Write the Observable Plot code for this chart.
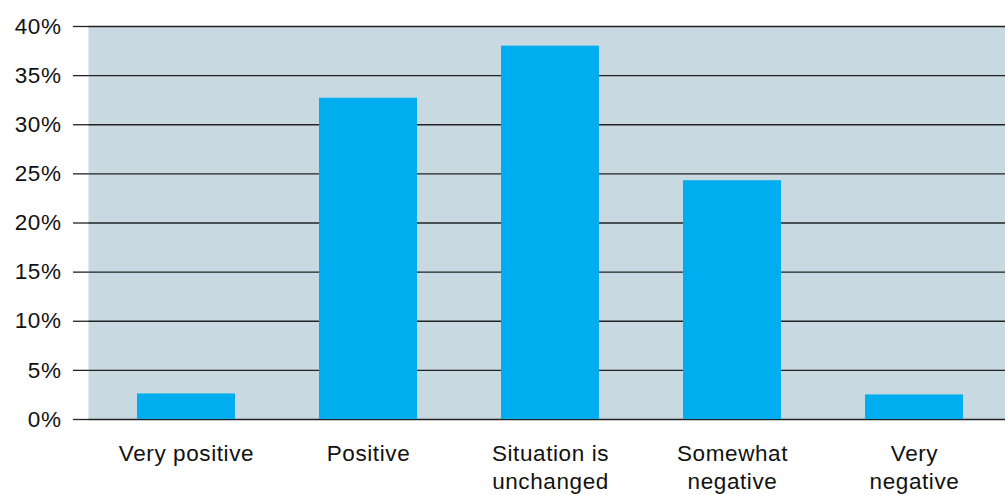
<!DOCTYPE html>
<html>
<head>
<meta charset="utf-8">
<script src="https://cdn.jsdelivr.net/npm/d3@7"></script>
<script src="https://cdn.jsdelivr.net/npm/@observablehq/plot@0.6"></script>
<style>
  html, body { margin: 0; padding: 0; background: #fff; }
  #chart svg { display: block; }
  #chart text { letter-spacing: 0.6px; }
</style>
</head>
<body>
<div id="chart"></div>
<script>
const categories = ["Very positive", "Positive", "Situation is\nunchanged", "Somewhat\nnegative", "Very\nnegative"];
const values = [2.6, 32.7, 38.0, 24.3, 2.5];
const yTicks = [0, 5, 10, 15, 20, 25, 30, 35, 40];

const data = categories.map((c, i) => ({category: c, value: values[i]}));

const chart = Plot.plot({
  width: 1005,
  height: 495,
  marginLeft: 88,
  marginRight: 0,
  marginTop: 26,
  marginBottom: 76,
  style: {fontFamily: "'Liberation Sans', Arial, sans-serif", fontSize: "22.5px", color: "#111", background: "#fff", overflow: "visible"},
  x: {domain: categories, range: [95, 1005], paddingInner: 0.46, paddingOuter: 0.23, label: null},
  y: {domain: [0, 40], ticks: yTicks, label: null},
  marks: [
    Plot.frame({fill: "#c8d9e1", stroke: null}),
    Plot.gridY(yTicks, {stroke: "#222", strokeOpacity: 1, strokeWidth: 1.3}),
    Plot.barY(data, {x: "category", y: "value", fill: "#00aeef"}),
    Plot.axisY(yTicks, {tickSize: 15, tickPadding: 12, stroke: "#222", strokeWidth: 1.3, tickFormat: d => d + "%", fill: "#111", fontSize: 22.5, label: null}),
    Plot.axisX({tickSize: 0, tickPadding: 21, lineHeight: 1.26, fill: "#111", fontSize: 22.5, label: null})
  ]
});
document.getElementById("chart").appendChild(chart);
</script>
</body>
</html>
